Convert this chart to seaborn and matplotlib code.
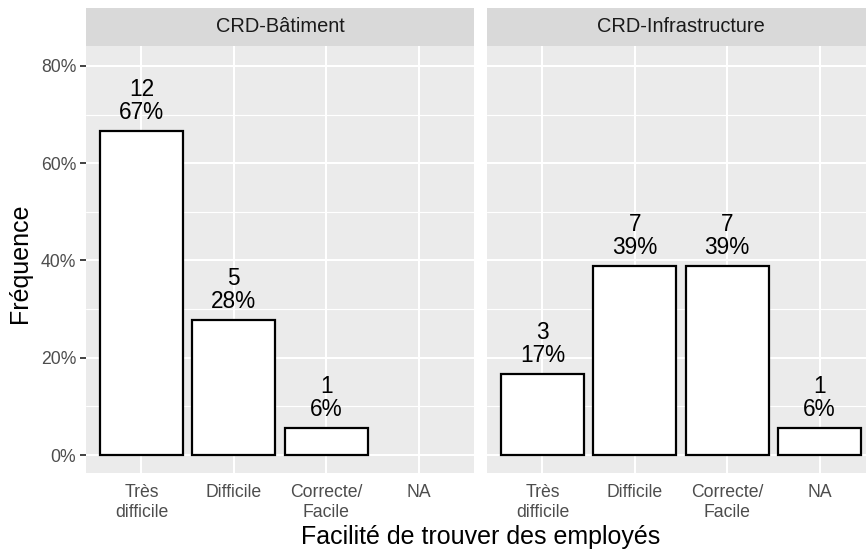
import pandas as pd
import numpy as np
import matplotlib.pyplot as plt
import seaborn as sns

# Data
categories = ['Très\ndifficile', 'Difficile', 'Correcte/\nFacile', 'NA']
facets = ['CRD-Bâtiment', 'CRD-Infrastructure']
counts_batiment = [12, 5, 1]          # no NA answer in this group
counts_infra = [3, 7, 7, 1]

sns.set_theme(style='darkgrid')
plt.rcParams['font.family'] = ['Liberation Sans', 'DejaVu Sans']

W, H = 866, 551
fig = plt.figure(figsize=(W / 100, H / 100), dpi=100)
fig.patch.set_facecolor('white')


def px_axes(left, top, width, height):
    return fig.add_axes([left / W, 1 - (top + height) / H, width / W, height / H])


panels = [
    (facets[0], categories[:len(counts_batiment)], counts_batiment, 86),
    (facets[1], categories, counts_infra, 487),
]

for i, (name, cats, counts, left) in enumerate(panels):
    df = pd.DataFrame({'cat': cats, 'n': counts})
    df['pct'] = df['n'] / df['n'].sum()

    ax = px_axes(left, 46, 388, 427)
    ax.set_facecolor('#EBEBEB')
    sns.barplot(data=df, x='cat', y='pct', order=categories, ax=ax,
                color='white', edgecolor='black', linewidth=1.6,
                width=0.9, saturation=1)

    for j, row in df.iterrows():
        ax.annotate(f"{row['n']}\n{row['pct']:.0%}",
                    (categories.index(row['cat']), row['pct']),
                    xytext=(0, 5), textcoords='offset points',
                    ha='center', va='bottom', fontsize=16.3,
                    linespacing=1.0, color='black')

    ax.set_xlim(-0.6, 3.6)
    ax.set_ylim(-0.037, 0.841)
    ax.set_yticks([0, 0.2, 0.4, 0.6, 0.8])
    ax.set_yticks([0.1, 0.3, 0.5, 0.7], minor=True)
    ax.grid(True, which='major', color='white', linewidth=1.5)
    ax.grid(True, which='minor', axis='y', color='white', linewidth=0.8)
    ax.set_axisbelow(True)
    for s in ax.spines.values():
        s.set_visible(False)

    ax.set_xlabel('')
    ax.set_ylabel('')
    ax.tick_params(axis='both', which='major', length=4, width=1.3,
                   color='#333333', labelcolor='#4D4D4D', labelsize=12.7, pad=3)
    ax.tick_params(axis='x', pad=4)
    ax.tick_params(axis='y', which='minor', length=0)
    ax.set_xticks(range(len(categories)))
    ax.set_xticklabels(categories, linespacing=1.2)
    if i == 0:
        ax.set_yticklabels(['0%', '20%', '40%', '60%', '80%'])
        ax.tick_params(axis='y', left=True)
    else:
        ax.tick_params(axis='y', left=False, labelleft=False)

    # facet strip
    strip = px_axes(left, 8, 388, 38)
    strip.set_facecolor('#D9D9D9')
    strip.set_xticks([])
    strip.set_yticks([])
    for s in strip.spines.values():
        s.set_visible(False)
    strip.text(0.5, 0.5, name, ha='center', va='center',
               fontsize=14.4, color='#1A1A1A', transform=strip.transAxes)

fig.text(481 / W, 1 - 537 / H, 'Facilité de trouver des employés',
         ha='center', va='center', fontsize=18, color='black')
fig.text(20 / W, 1 - 263 / H, 'Fréquence', rotation=90,
         ha='center', va='center', fontsize=18, color='black')

plt.savefig('out.png', dpi=100)
